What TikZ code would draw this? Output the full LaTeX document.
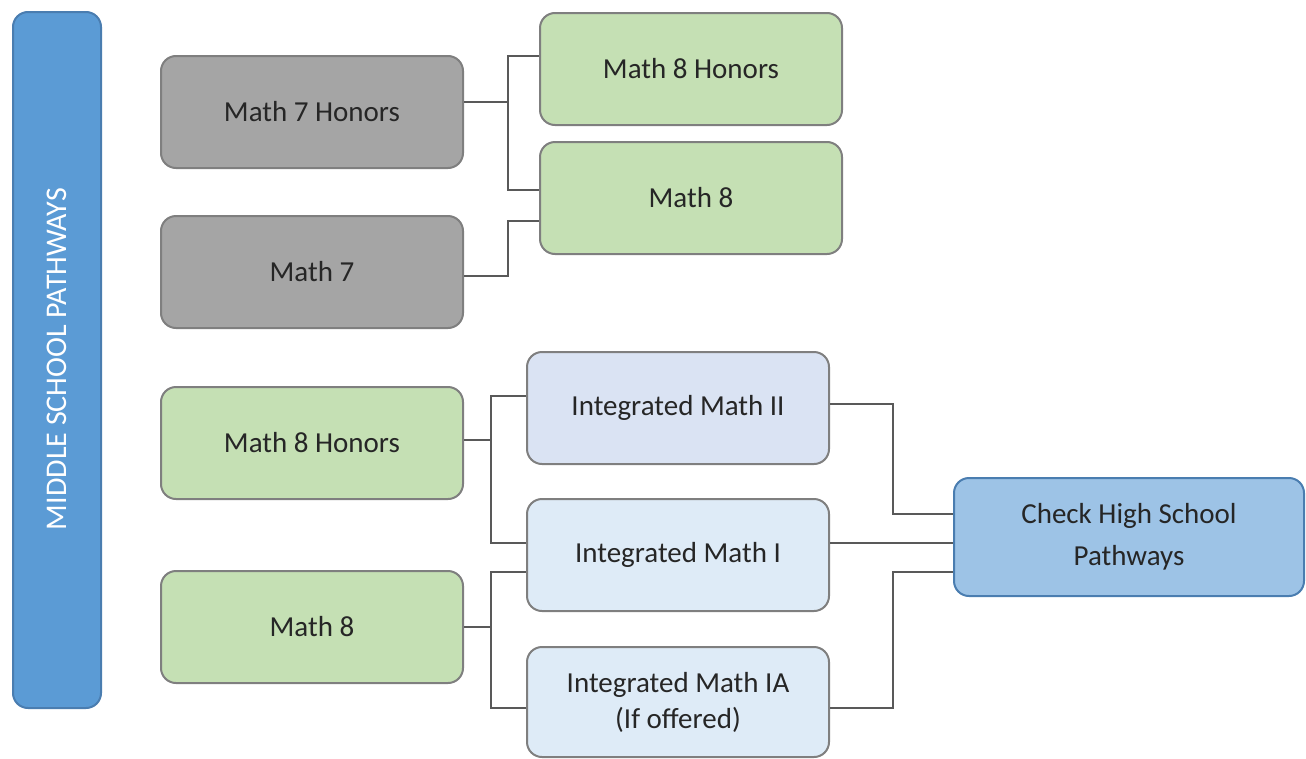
\documentclass[tikz,border=0pt]{standalone}
\usepackage{fontspec}
\setmainfont{Carlito}
\definecolor{barblue}{HTML}{5B9BD5}
\definecolor{barline}{HTML}{4A7DB0}
\definecolor{graybox}{HTML}{A5A5A5}
\definecolor{greenbox}{HTML}{C5E0B4}
\definecolor{bluelight}{HTML}{DAE3F3}
\definecolor{bluepale}{HTML}{DEEBF7}
\definecolor{bluemid}{HTML}{9DC3E6}
\definecolor{boxline}{HTML}{7F7F7F}
\definecolor{txt}{HTML}{262626}
\definecolor{connc}{HTML}{595959}
\tikzset{
  box/.style={draw=boxline, line width=2pt, rounded corners=15pt, minimum width=302pt, minimum height=112pt, inner sep=0pt, text=txt, font=\fontsize{29}{36}\selectfont, align=center},
  graynode/.style={box, fill=graybox},
  greennode/.style={box, fill=greenbox},
  imtwo/.style={box, fill=bluelight},
  imone/.style={box, fill=bluepale},
  conn/.style={draw=connc, line width=1.5pt},
}
\begin{document}
\begin{tikzpicture}[x=1pt,y=-1pt]
\useasboundingbox (0,0) rectangle (1306,758);
\node[draw=barline, line width=2pt, fill=barblue, rounded corners=15pt, minimum width=88pt, minimum height=696pt, inner sep=0pt] (bar) at (57,360) {};
\node[rotate=90, text=white, font=\fontsize{30}{34}\selectfont] (bartxt) at (57,359) {MIDDLE SCHOOL PATHWAYS};
\node[graynode] (m7h) at (312,112) {Math 7 Honors};
\node[graynode] (m7) at (312,272) {Math 7};
\node[greennode] (m8ht) at (691,69) {Math 8 Honors};
\node[greennode] (m8t) at (691,198) {Math 8};
\node[greennode] (m8hb) at (312,443) {Math 8 Honors};
\node[greennode] (m8b) at (312,627) {Math 8};
\node[imtwo] (im2) at (678,408) {Integrated Math II};
\node[imone] (im1) at (678,555) {Integrated Math I};
\node[imone, minimum height=110pt] (im1a) at (678,702) {Integrated Math IA\\(If offered)};
\node[box, draw=barline, fill=bluemid, minimum width=350pt, minimum height=118pt, font=\fontsize{29}{42}\selectfont] (hs) at (1129,537) {Check High School\\Pathways};
% connectors
\draw[conn] ([yshift=10pt]m7h.east) -- ++(44,0) |- ([yshift=13pt]m8ht.west);
\draw[conn] ([yshift=10pt]m7h.east) -- ++(44,0) |- ([yshift=8pt]m8t.west);
\draw[conn] ([yshift=-4pt]m7.east) -- ++(44,0) |- ([yshift=-23pt]m8t.west);
\draw[conn] ([yshift=3pt]m8hb.east) -- ++(27,0) |- ([yshift=12pt]im2.west);
\draw[conn] ([yshift=3pt]m8hb.east) -- ++(27,0) |- ([yshift=12pt]im1.west);
\draw[conn] (m8b.east) -- ++(27,0) |- ([yshift=-17pt]im1.west);
\draw[conn] (m8b.east) -- ++(27,0) |- ([yshift=-6pt]im1a.west);
\draw[conn] ([yshift=4pt]im2.east) -- ++(63,0) |- ([yshift=23pt]hs.west);
\draw[conn] ([yshift=12pt]im1.east) -- ([yshift=-6pt]hs.west);
\draw[conn] ([yshift=-6pt]im1a.east) -- ++(63,0) |- ([yshift=-35pt]hs.west);
\end{tikzpicture}
\end{document}
